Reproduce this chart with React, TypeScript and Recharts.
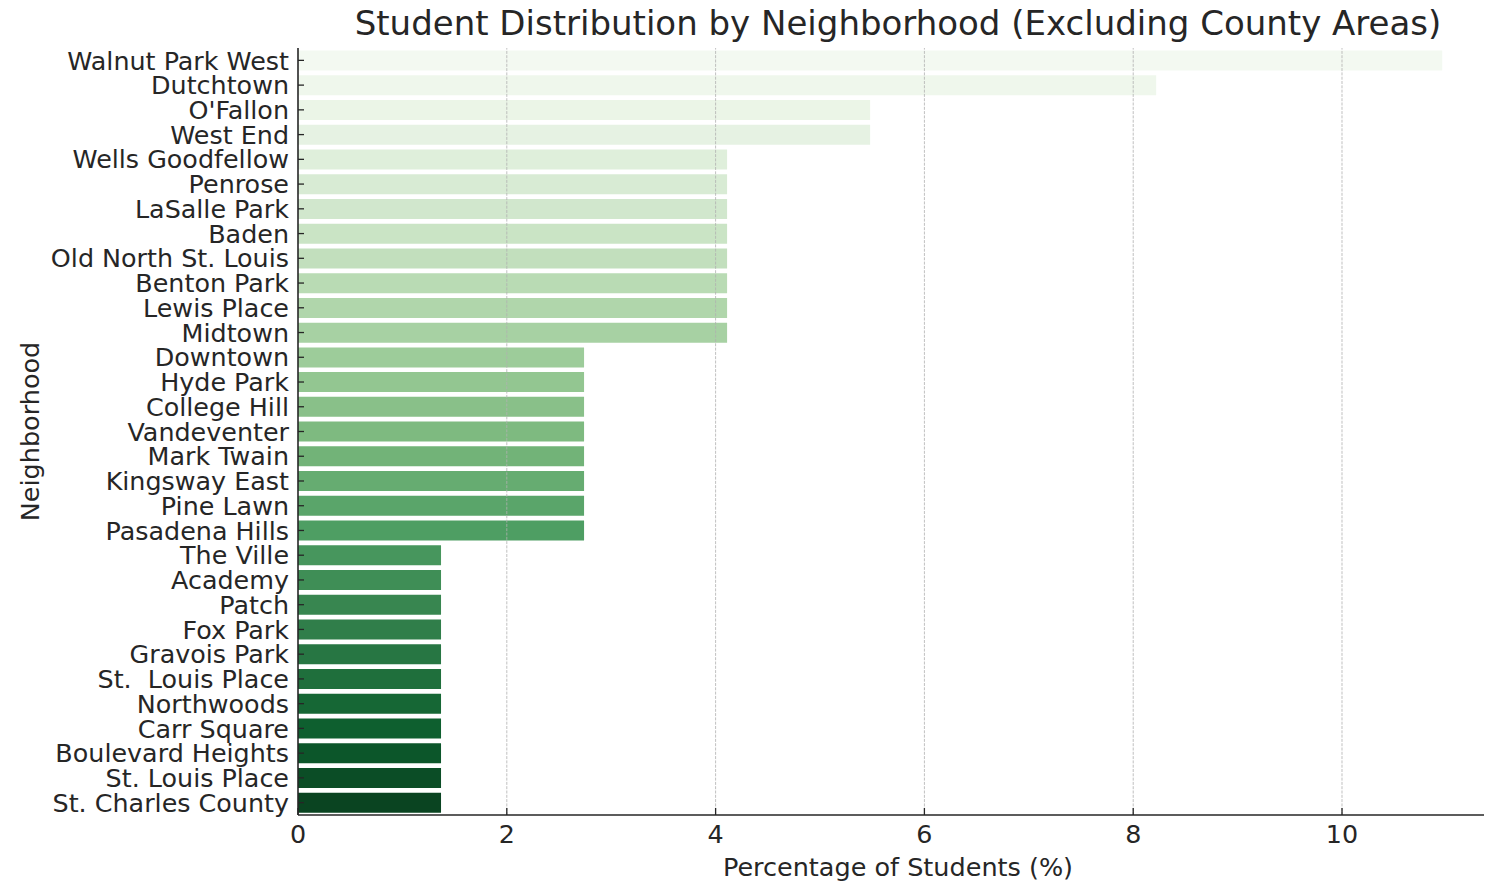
import { BarChart, Bar, XAxis, YAxis, Cell, ReferenceLine } from "recharts";

const neighborhoods = [
  "Walnut Park West",
  "Dutchtown",
  "O'Fallon",
  "West End",
  "Wells Goodfellow",
  "Penrose",
  "LaSalle Park",
  "Baden",
  "Old North St. Louis",
  "Benton Park",
  "Lewis Place",
  "Midtown",
  "Downtown",
  "Hyde Park",
  "College Hill",
  "Vandeventer",
  "Mark Twain",
  "Kingsway East",
  "Pine Lawn",
  "Pasadena Hills",
  "The Ville",
  "Academy",
  "Patch",
  "Fox Park",
  "Gravois Park",
  "St.  Louis Place",
  "Northwoods",
  "Carr Square",
  "Boulevard Heights",
  "St. Louis Place",
  "St. Charles County",
];

const percentages = [
  10.96, 8.22, 5.48, 5.48,
  4.11, 4.11, 4.11, 4.11, 4.11, 4.11, 4.11, 4.11,
  2.74, 2.74, 2.74, 2.74, 2.74, 2.74, 2.74, 2.74,
  1.37, 1.37, 1.37, 1.37, 1.37, 1.37, 1.37, 1.37, 1.37, 1.37, 1.37,
];

const xTicks = [0, 2, 4, 6, 8, 10];

// matplotlib "Greens" stops, sampled like seaborn's color_palette("Greens", n)
const GREENS = [
  [247, 252, 245], [229, 245, 224], [199, 233, 192], [161, 217, 155],
  [116, 196, 118], [65, 171, 93], [35, 139, 69], [0, 109, 44], [0, 68, 27],
];

// seaborn barplot knocks saturation down to 0.75
function desat(rgb: number[], amt = 0.75) {
  const [r, g, b] = rgb.map((v) => v / 255);
  const max = Math.max(r, g, b);
  const min = Math.min(r, g, b);
  const l = (max + min) / 2;
  if (max === min) return rgb;
  const s = l < 0.5 ? (max - min) / (max + min) : (max - min) / (2 - max - min);
  const s2 = s * amt;
  const max2 = l < 0.5 ? l * (1 + s2) : l + s2 - l * s2;
  const min2 = 2 * l - max2;
  return [r, g, b].map((v) => Math.round((min2 + ((v - min) / (max - min)) * (max2 - min2)) * 255));
}

function greens(t: number) {
  const p = t * 8;
  const i = Math.min(7, Math.floor(p));
  const f = p - i;
  const c = desat(GREENS[i].map((v, k) => v + (GREENS[i + 1][k] - v) * f));
  return `rgb(${c[0]},${c[1]},${c[2]})`;
}

const FONT = "DejaVu Sans";
const INK = "#262626";

const rows = neighborhoods.map((name, i) => ({ name, pct: percentages[i] }));
const colors = rows.map((_, i) => greens((i + 1) / (rows.length + 1)));

const YTick = ({ x, y, payload }: any) => (
  <g>
    <line x1={x} x2={x + 6} y1={y} y2={y} stroke={INK} strokeWidth={1.3} />
    <text
      x={x - 9}
      y={y}
      dy="0.36em"
      textAnchor="end"
      fontSize={25.4}
      fontFamily={FONT}
      fill={INK}
      style={{ whiteSpace: "pre" }}
    >
      {payload.value}
    </text>
  </g>
);

const XTick = ({ x, y, payload }: any) => (
  <g>
    <line x1={x} x2={x} y1={y} y2={y - 7} stroke={INK} strokeWidth={1.3} />
    <text x={x} y={y + 28} textAnchor="middle" fontSize={25.4} fontFamily={FONT} fill={INK}>
      {payload.value}
    </text>
  </g>
);

export default function App() {
  return (
    <div
      style={{
        position: "fixed",
        left: 0,
        top: 0,
        width: 1485,
        height: 882,
        overflow: "hidden",
        background: "#fff",
      }}
    >
      <div
        style={{
          position: "absolute",
          left: 0,
          width: 1796,
          top: 3,
          textAlign: "center",
          fontFamily: FONT,
          fontSize: 34,
          color: INK,
          whiteSpace: "nowrap",
        }}
      >
        Student Distribution by Neighborhood (Excluding County Areas)
      </div>
      <BarChart
        width={1485}
        height={882}
        data={rows}
        layout="vertical"
        margin={{ top: 48, right: 1, bottom: 0, left: 0 }}
        barCategoryGap="10%"
      >
        <XAxis
          type="number"
          domain={[0, 11.36]}
          ticks={xTicks}
          height={67}
          axisLine={{ stroke: INK, strokeWidth: 1.6 }}
          tickLine={false}
          tickSize={0}
          tickMargin={0}
          tick={<XTick />}
          label={{
            content: ({ viewBox }: any) => (
              <text
                x={viewBox.x + viewBox.width / 2 + 7}
                y={viewBox.y + 61}
                textAnchor="middle"
                fontSize={25.5}
                fontFamily={FONT}
                fill={INK}
              >
                Percentage of Students (%)
              </text>
            ),
          }}
        />
        <YAxis
          type="category"
          dataKey="name"
          width={298}
          interval={0}
          axisLine={{ stroke: INK, strokeWidth: 1.6 }}
          tickLine={false}
          tickSize={0}
          tickMargin={0}
          tick={<YTick />}
          label={{
            content: ({ viewBox }: any) => (
              <text
                x={0}
                y={0}
                transform={`translate(${viewBox.x + 39}, ${viewBox.y + viewBox.height / 2}) rotate(-90)`}
                textAnchor="middle"
                fontSize={25.5}
                fontFamily={FONT}
                fill={INK}
              >
                Neighborhood
              </text>
            ),
          }}
        />
        <Bar dataKey="pct" isAnimationActive={false}>
          {rows.map((r, i) => (
            <Cell key={r.name} fill={colors[i]} />
          ))}
        </Bar>
        {xTicks.slice(1).map((t) => (
          <ReferenceLine
            key={t}
            x={t}
            stroke="#b0b0b0"
            strokeOpacity={0.8}
            strokeWidth={1}
            strokeDasharray="3 1.3"
          />
        ))}
      </BarChart>
    </div>
  );
}
